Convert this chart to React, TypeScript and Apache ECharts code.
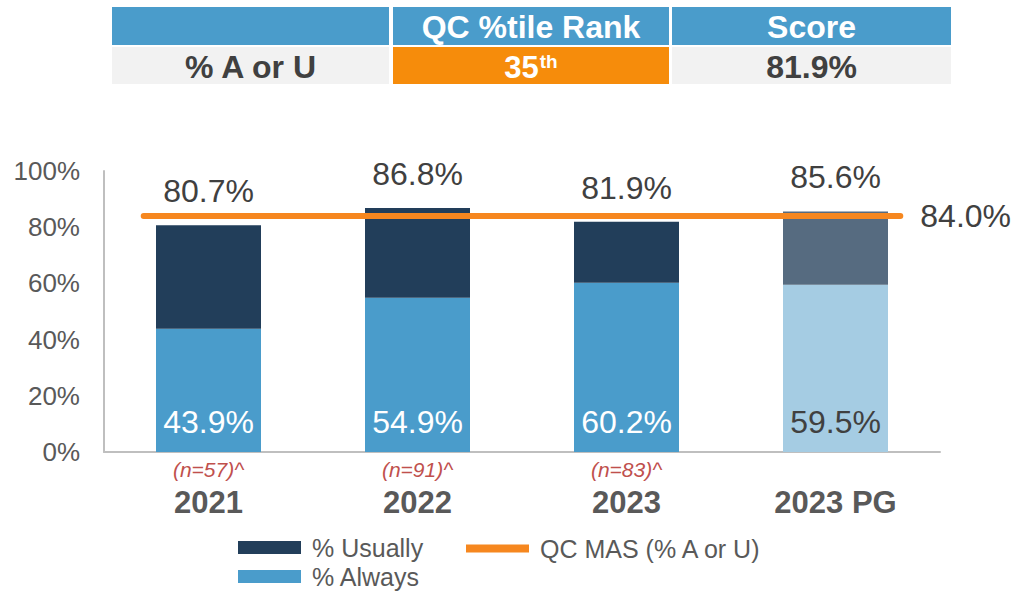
import React, { useEffect, useRef } from "react";
import * as echarts from "echarts";

const categories = ["2021", "2022", "2023", "2023 PG"];
const sampleLabels = ["(n=57)^", "(n=91)^", "(n=83)^", ""];
const alwaysValues = [43.9, 54.9, 60.2, 59.5];
const usuallyValues = [36.8, 31.9, 21.7, 26.1];
const totalValues = [80.7, 86.8, 81.9, 85.6];
const masValue = 84.0;
const yTicks = [0, 20, 40, 60, 80, 100];
const tableHeader = ["", "QC %tile Rank", "Score"];
const tableRow = ["% A or U", "35", "81.9%"];

const FONT = "Liberation Sans, Arial, sans-serif";
const C_USUALLY = "#223E5A";
const C_ALWAYS = "#4A9CCB";
const C_USUALLY_PG = "#566B80";
const C_ALWAYS_PG = "#A5CCE3";
const C_ORANGE = "#F6871F";
const C_TEXT = "#595959";

export default function App() {
  const ref = useRef<HTMLDivElement>(null);
  useEffect(() => {
    if (!ref.current) return;
    const chart = echarts.init(ref.current, undefined, { renderer: "svg" });
    const last = categories.length - 1;

    const colX = [112, 393, 672];
    const colW = [277, 276, 279];
    const graphics: any[] = [];
    for (let i = 0; i < 3; i++) {
      graphics.push({
        type: "rect",
        shape: { x: colX[i], y: 7, width: colW[i], height: 38 },
        style: { fill: C_ALWAYS },
      });
      graphics.push({
        type: "rect",
        shape: { x: colX[i], y: 47, width: colW[i], height: 37 },
        style: { fill: i === 1 ? "#F68C0B" : "#F2F2F2" },
      });
      if (tableHeader[i]) {
        graphics.push({
          type: "text",
          x: colX[i] + colW[i] / 2,
          y: 27,
          style: {
            text: tableHeader[i],
            fill: "#fff",
            font: `bold 32px ${FONT}`,
            align: "center",
            verticalAlign: "middle",
          },
        });
      }
    }
    graphics.push({
      type: "text",
      x: colX[0] + colW[0] / 2,
      y: 67,
      style: {
        text: tableRow[0],
        fill: "#404040",
        font: `bold 32px ${FONT}`,
        align: "center",
        verticalAlign: "middle",
      },
    });
    graphics.push({
      type: "text",
      x: colX[1] + colW[1] / 2,
      y: 67,
      style: {
        text: `{a|${tableRow[1]}}{s|th}`,
        align: "center",
        verticalAlign: "middle",
        fill: "#fff",
        rich: {
          a: { fill: "#fff", fontSize: 31, fontWeight: "bold", fontFamily: FONT },
          s: { fill: "#fff", fontSize: 19, fontWeight: "bold", fontFamily: FONT, verticalAlign: "top", padding: [0, 0, 10, 1] },
        },
      },
    });
    graphics.push({
      type: "text",
      x: colX[2] + colW[2] / 2,
      y: 67,
      style: {
        text: tableRow[2],
        fill: "#404040",
        font: `bold 32px ${FONT}`,
        align: "center",
        verticalAlign: "middle",
      },
    });

    const legendText = { fontSize: 25, color: C_TEXT, fontFamily: FONT, padding: [0, 0, 0, 6] };
    const option: any = {
      animation: false,
      textStyle: { fontFamily: FONT },
      graphic: graphics,
      grid: { left: 104, right: 75, top: 171, bottom: 139, containLabel: false },
      legend: [
        {
          left: 233,
          top: 530,
          itemWidth: 63,
          itemHeight: 13,
          icon: "rect",
          data: ["% Usually"],
          textStyle: legendText,
        },
        {
          left: 233,
          top: 559,
          itemWidth: 63,
          itemHeight: 13,
          icon: "rect",
          data: ["% Always"],
          textStyle: legendText,
        },
        {
          left: 461,
          top: 531,
          itemWidth: 63,
          itemHeight: 8,
          icon: "rect",
          data: ["QC MAS (% A or U)"],
          textStyle: legendText,
        },
      ],
      xAxis: [
        {
          type: "category",
          data: categories,
          axisLine: { show: true, lineStyle: { color: "#BFBFBF", width: 2 } },
          axisTick: { show: false },
          axisLabel: {
            interval: 0,
            margin: 4,
            formatter: (v: string, i: number) =>
              sampleLabels[i] ? `{n|${sampleLabels[i]}}\n{y|${v}}` : `{n| }\n{y|${v}}`,
            rich: {
              n: { color: "#C0504D", fontSize: 21, fontStyle: "italic", fontFamily: FONT, height: 26 },
              y: { color: C_TEXT, fontSize: 31, fontWeight: "bold", fontFamily: FONT, height: 40 },
            },
          },
        },
        {
          type: "value",
          min: 0,
          max: 4,
          show: false,
        },
      ],
      yAxis: {
        type: "value",
        min: 0,
        max: 100,
        interval: 20,
        axisLine: { show: true, lineStyle: { color: "#BFBFBF", width: 2 } },
        axisTick: { show: false },
        splitLine: { show: false },
        axisLabel: {
          fontSize: 26,
          color: C_TEXT,
          margin: 24,
          formatter: (v: number) => (yTicks.includes(v) ? `${v}%` : ""),
        },
      },
      series: [
        {
          name: "% Always",
          type: "bar",
          stack: "s",
          barWidth: 105,
          itemStyle: { color: C_ALWAYS },
          data: alwaysValues.map((v, i) => ({
            value: v,
            itemStyle: { color: i === last ? C_ALWAYS_PG : C_ALWAYS },
            label: { color: i === last ? "#404040" : "#fff" },
          })),
          label: {
            show: true,
            position: "insideBottom",
            distance: 14,
            fontSize: 32,
            fontFamily: FONT,
            formatter: (p: any) => `${p.value.toFixed(1)}%`,
          },
        },
        {
          name: "% Usually",
          type: "bar",
          stack: "s",
          barWidth: 105,
          itemStyle: { color: C_USUALLY },
          data: usuallyValues.map((v, i) => ({
            value: v,
            itemStyle: { color: i === last ? C_USUALLY_PG : C_USUALLY },
          })),
          label: {
            show: true,
            position: "top",
            distance: 18,
            fontSize: 32,
            color: "#404040",
            fontFamily: FONT,
            formatter: (p: any) => `${totalValues[p.dataIndex].toFixed(1)}%`,
          },
        },
        {
          name: "QC MAS (% A or U)",
          type: "line",
          xAxisIndex: 1,
          data: [
            [0.19, masValue],
            [3.81, masValue],
          ],
          symbol: "none",
          z: 5,
          lineStyle: { color: C_ORANGE, width: 6, cap: "round" },
          itemStyle: { color: C_ORANGE },
          endLabel: {
            show: true,
            distance: 20,
            fontSize: 32,
            color: "#404040",
            fontFamily: FONT,
            formatter: () => `${masValue.toFixed(1)}%`,
          },
        },
      ],
    };
    chart.setOption(option);
    return () => chart.dispose();
  }, []);
  return (
    <div
      ref={ref}
      style={{ position: "absolute", left: 0, top: 0, width: 1015, height: 591, background: "#fff" }}
    />
  );
}
